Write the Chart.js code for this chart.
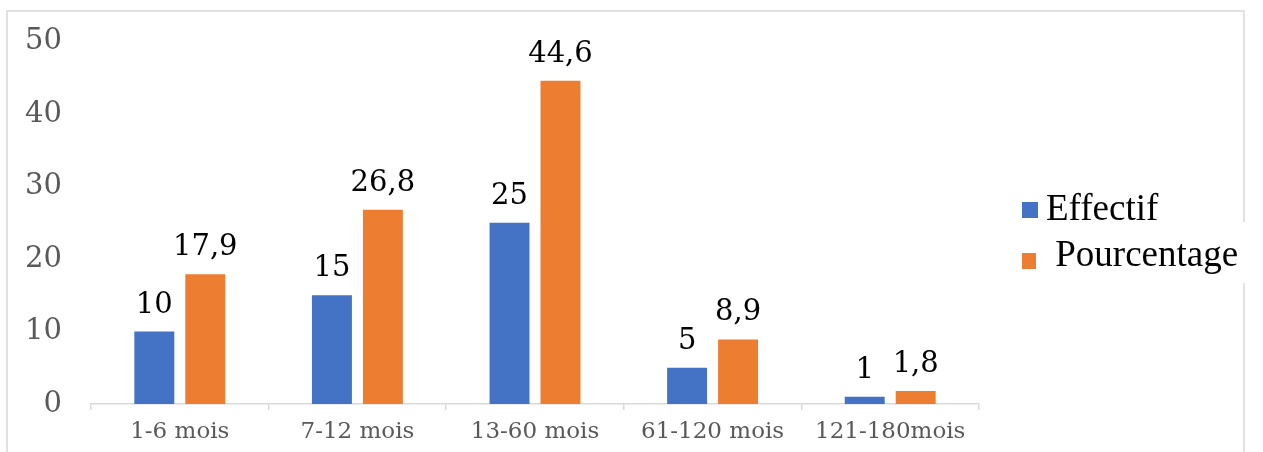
<!DOCTYPE html>
<html>
<head>
<meta charset="utf-8">
<script src="https://cdn.jsdelivr.net/npm/chart.js@4"></script>
<style>
  body { margin: 0; background: #fff; }
  #wrap { position: relative; width: 1263px; height: 452px; }
</style>
</head>
<body>
<div id="wrap"><canvas id="ageChart"></canvas></div>
<script>
const categories = ['1-6 mois', '7-12 mois', '13-60 mois', '61-120 mois', '121-180mois'];
const effectif = [10, 15, 25, 5, 1];
const pourcentage = [17.9, 26.8, 44.6, 8.9, 1.8];
const seriesNames = ['Effectif', ' Pourcentage'];
const yTicks = [0, 10, 20, 30, 40, 50];

const BLUE = '#4472C4';
const ORANGE = '#ED7D31';
const LINE = '#d9d9d9';

// outer frame of the chart, with a break where the legend text runs over it
const framePlugin = {
  id: 'frame',
  beforeDraw(chart) {
    const c = chart.ctx;
    c.save();
    c.strokeStyle = LINE;
    c.lineWidth = 1.5;
    c.beginPath();
    c.moveTo(7, 452);
    c.lineTo(7, 11);
    c.lineTo(1244, 11);
    c.lineTo(1244, 222);
    c.moveTo(1244, 283);
    c.lineTo(1244, 452);
    c.stroke();
    c.restore();
  }
};

// value written above each bar, with a comma as decimal separator
const valueLabels = {
  id: 'valueLabels',
  afterDatasetsDraw(chart) {
    const c = chart.ctx;
    c.save();
    c.font = '29px "DejaVu Serif"';
    c.fillStyle = '#000';
    c.textAlign = 'center';
    c.textBaseline = 'alphabetic';
    chart.data.datasets.forEach((ds, i) => {
      chart.getDatasetMeta(i).data.forEach((bar, j) => {
        c.fillText(String(ds.data[j]).replace('.', ','), bar.x, bar.y - 19);
      });
    });
    c.restore();
  }
};

// legend on the right, one entry per line
const sideLegend = {
  id: 'sideLegend',
  afterDraw(chart) {
    const c = chart.ctx;
    const rows = [
      { box: [1022, 202, 16, 16], y: 220 },
      { box: [1022, 253, 14, 16], y: 266 }
    ];
    c.save();
    c.font = '37px "Liberation Serif"';
    c.textBaseline = 'alphabetic';
    chart.data.datasets.forEach((ds, i) => {
      const r = rows[i];
      c.fillStyle = ds.backgroundColor;
      c.fillRect(...r.box);
      c.fillStyle = '#000';
      c.fillText(ds.label, 1046, r.y);
    });
    c.restore();
  }
};

new Chart(document.getElementById('ageChart'), {
  type: 'bar',
  data: {
    labels: categories,
    datasets: [
      { label: seriesNames[0], data: effectif, backgroundColor: BLUE },
      { label: seriesNames[1], data: pourcentage, backgroundColor: ORANGE }
    ]
  },
  options: {
    responsive: true,
    maintainAspectRatio: false,
    animation: false,
    categoryPercentage: 0.574,
    barPercentage: 0.784,
    layout: { padding: { top: 41.5, right: 284, left: 0, bottom: 0 } },
    plugins: {
      legend: { display: false },
      tooltip: { enabled: false }
    },
    scales: {
      x: {
        grid: { display: true, drawOnChartArea: false, drawTicks: true, tickLength: 6, color: LINE, lineWidth: 1.5, offset: true },
        border: { display: true, color: LINE, width: 1.5 },
        ticks: { color: '#595959', font: { family: 'DejaVu Serif', size: 23 }, padding: 8, maxRotation: 0 },
        afterFit(scale) {
          scale.height = 48;
          scale.paddingLeft = 0;
          scale.paddingRight = 0;
        }
      },
      y: {
        min: yTicks[0],
        max: yTicks[yTicks.length - 1],
        grid: { display: false, drawTicks: false },
        border: { display: false },
        afterBuildTicks(scale) { scale.ticks = yTicks.map(v => ({ value: v })); },
        ticks: { color: '#595959', font: { family: 'DejaVu Serif', size: 29 }, padding: 29 },
        afterFit(scale) {
          scale.width = 91;
          scale.paddingTop = 0;
          scale.paddingBottom = 0;
        }
      }
    }
  },
  plugins: [framePlugin, valueLabels, sideLegend]
});
</script>
</body>
</html>
